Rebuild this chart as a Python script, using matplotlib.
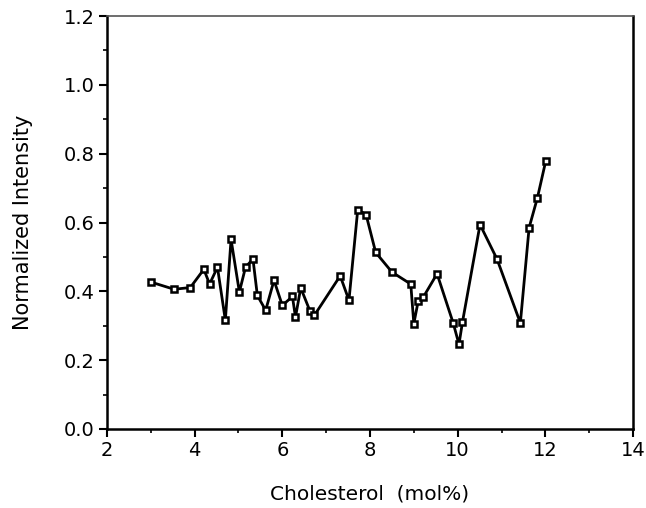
import matplotlib
matplotlib.use("Agg")
import matplotlib.pyplot as plt
from matplotlib.ticker import MultipleLocator

cholesterol = [3.0, 3.53, 3.90, 4.21, 4.34, 4.52, 4.70, 4.83, 5.02, 5.16,
               5.33, 5.43, 5.62, 5.81, 6.00, 6.23, 6.30, 6.42, 6.63, 6.73,
               7.32, 7.52, 7.72, 7.91, 8.13, 8.50, 8.93, 9.00, 9.10, 9.22,
               9.53, 9.90, 10.03, 10.11, 10.51, 10.90, 11.43, 11.63, 11.82, 12.01]
intensity = [0.427, 0.406, 0.411, 0.464, 0.421, 0.470, 0.316, 0.551, 0.398, 0.470,
             0.494, 0.388, 0.345, 0.432, 0.359, 0.385, 0.325, 0.410, 0.343, 0.330,
             0.445, 0.374, 0.637, 0.623, 0.513, 0.456, 0.421, 0.306, 0.372, 0.384,
             0.451, 0.307, 0.246, 0.311, 0.594, 0.493, 0.308, 0.585, 0.672, 0.779]
x_ticks = [2, 4, 6, 8, 10, 12, 14]
y_ticks = [0.0, 0.2, 0.4, 0.6, 0.8, 1.0, 1.2]

fig = plt.figure(figsize=(6.46, 5.08), dpi=100)
ax = fig.add_axes([107/646, 1-429/508, (633-107)/646, (429-16)/508])

ax.plot(cholesterol, intensity, color="black", linewidth=2.0,
        marker="s", markersize=4.6, markerfacecolor="white",
        markeredgecolor="black", markeredgewidth=1.8)

ax.set_xlim(2, 14)
ax.set_ylim(0, 1.2)
ax.set_xticks(x_ticks)
ax.set_xticklabels([str(v) for v in x_ticks])
ax.set_yticks(y_ticks)
ax.set_yticklabels([f"{v:.1f}" for v in y_ticks])
ax.xaxis.set_minor_locator(MultipleLocator(1))
ax.yaxis.set_minor_locator(MultipleLocator(0.1))

ax.tick_params(which="major", direction="out", length=6, width=1.5, labelsize=14, pad=3)
ax.tick_params(which="minor", direction="out", length=3, width=1.2)

for side in ["left", "bottom", "right"]:
    ax.spines[side].set_linewidth(1.8)
ax.spines["top"].set_linewidth(1.2)
ax.spines["top"].set_color("#555555")

ax.set_xlabel("Cholesterol  (mol%)", fontsize=14.5, labelpad=17)
ax.set_ylabel("Normalized Intensity", fontsize=15, labelpad=22)

fig.savefig("out.png", dpi=100)
